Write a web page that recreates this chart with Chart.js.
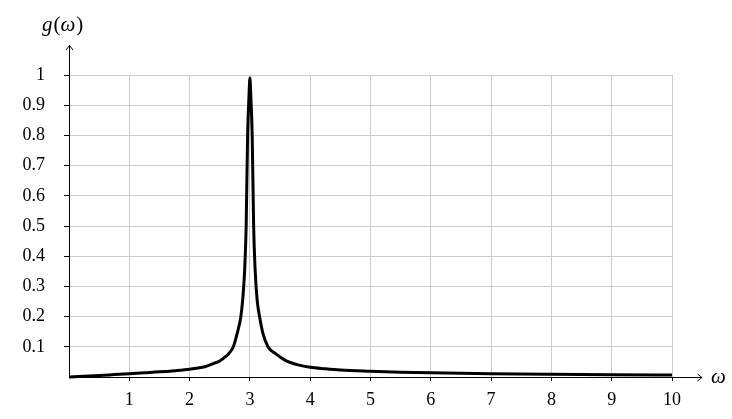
<!DOCTYPE html>
<html>
<head>
<meta charset="utf-8">
<script src="https://cdn.jsdelivr.net/npm/chart.js@4"></script>
<style>
  html, body { margin: 0; padding: 0; background: #fff; }
  #wrap { width: 732px; height: 419px; }
</style>
</head>
<body>
<div id="wrap"><canvas id="chart" width="732" height="419"></canvas></div>
<script>
// values
const omega = [0, 0.25, 0.5, 0.75, 1, 1.25, 1.5, 1.75, 2, 2.25, 2.4, 2.5, 2.6, 2.66, 2.725, 2.79,
               2.85, 2.88, 2.912, 2.938, 2.962, 2.985, 3.0,
               3.015, 3.038, 3.062, 3.088, 3.12, 3.16, 3.215, 3.3, 3.42, 3.58, 3.8, 4,
               4.25, 4.5, 5, 5.5, 6, 7, 8, 9, 10];
const g = [0, 0.0025, 0.005, 0.008, 0.011, 0.014, 0.017, 0.021, 0.026, 0.034, 0.045, 0.053, 0.068, 0.08, 0.1, 0.145,
           0.2, 0.255, 0.35, 0.5, 0.8, 0.93, 0.99,
           0.93, 0.8, 0.5, 0.35, 0.255, 0.2, 0.145, 0.1, 0.078, 0.056, 0.04, 0.032,
           0.027, 0.023, 0.019, 0.016, 0.014, 0.011, 0.009, 0.0075, 0.0065];
const xTicks = [1, 2, 3, 4, 5, 6, 7, 8, 9, 10];
const yTicks = [0.1, 0.2, 0.3, 0.4, 0.5, 0.6, 0.7, 0.8, 0.9, 1];

const serif = '"Liberation Serif", "DejaVu Serif", serif';

// black axes with arrow tips and the axis labels
const axesPlugin = {
  id: 'axes',
  afterDatasetsDraw(chart) {
    const ctx = chart.ctx;
    const a = chart.chartArea;
    const x0 = Math.round(a.left) + 0.5;
    const y0 = Math.round(a.bottom) + 0.5;
    ctx.save();
    ctx.strokeStyle = '#000';
    ctx.lineWidth = 1;
    ctx.beginPath();
    ctx.moveTo(x0, y0);
    ctx.lineTo(x0, 45.5);
    ctx.moveTo(x0, y0);
    ctx.lineTo(702, y0);
    // arrow heads
    ctx.moveTo(x0 - 3.5, 50);
    ctx.lineTo(x0, 45.5);
    ctx.lineTo(x0 + 3.5, 50);
    ctx.moveTo(697.5, y0 - 3.5);
    ctx.lineTo(702, y0);
    ctx.lineTo(697.5, y0 + 3.5);
    ctx.stroke();

    ctx.fillStyle = '#000';
    ctx.textBaseline = 'alphabetic';
    // g(ω)
    let x = 42;
    const parts = [['g', true], ['(', false], ['ω', true], [')', false]];
    parts.forEach(([t, it]) => {
      ctx.font = (it ? 'italic ' : '') + '21px ' + serif;
      ctx.fillText(t, x, 31);
      x += ctx.measureText(t).width + (it ? 1 : 0);
    });
    ctx.font = 'italic 21px ' + serif;
    ctx.fillText('ω', 711, 383);
    ctx.restore();
  }
};

const tickColor = c => (c.tick && c.tick.value === 0) ? 'rgba(0,0,0,0)' : '#000';
const gridColor = c => (c.tick && c.tick.value === 0) ? 'rgba(0,0,0,0)' : '#cccccc';

new Chart(document.getElementById('chart').getContext('2d'), {
  type: 'line',
  data: {
    datasets: [{
      data: omega.map((w, i) => ({ x: w, y: g[i] })),
      borderColor: '#000',
      borderWidth: 3,
      borderJoinStyle: 'round',
      pointRadius: 0,
      fill: false,
      cubicInterpolationMode: 'monotone',
      clip: false
    }]
  },
  options: {
    responsive: false,
    animation: false,
    events: [],
    layout: { padding: { left: 8, right: 60, top: 75, bottom: 2 } },
    plugins: { legend: { display: false }, tooltip: { enabled: false } },
    scales: {
      x: {
        type: 'linear',
        min: 0,
        max: 10,
        afterBuildTicks: s => { s.ticks = [0].concat(xTicks).map(v => ({ value: v })); },
        afterFit: s => { s.height = 40; },
        border: { display: false },
        grid: { color: gridColor, tickColor: tickColor, tickLength: 4, lineWidth: 1 },
        ticks: {
          color: '#000',
          padding: 8,
          maxRotation: 0,
          autoSkip: false,
          font: { family: serif, size: 18 },
          callback: v => v === 0 ? '' : String(v)
        }
      },
      y: {
        min: 0,
        max: 1,
        afterBuildTicks: s => { s.ticks = [0].concat(yTicks).map(v => ({ value: v })); },
        afterFit: s => { s.width = 61; },
        border: { display: false },
        grid: { color: gridColor, tickColor: tickColor, tickLength: 5, lineWidth: 1 },
        ticks: {
          color: '#000',
          padding: 19,
          autoSkip: false,
          font: { family: serif, size: 18 },
          callback: v => v === 0 ? '' : String(Math.round(v * 10) / 10)
        }
      }
    }
  },
  plugins: [axesPlugin]
});
</script>
</body>
</html>
